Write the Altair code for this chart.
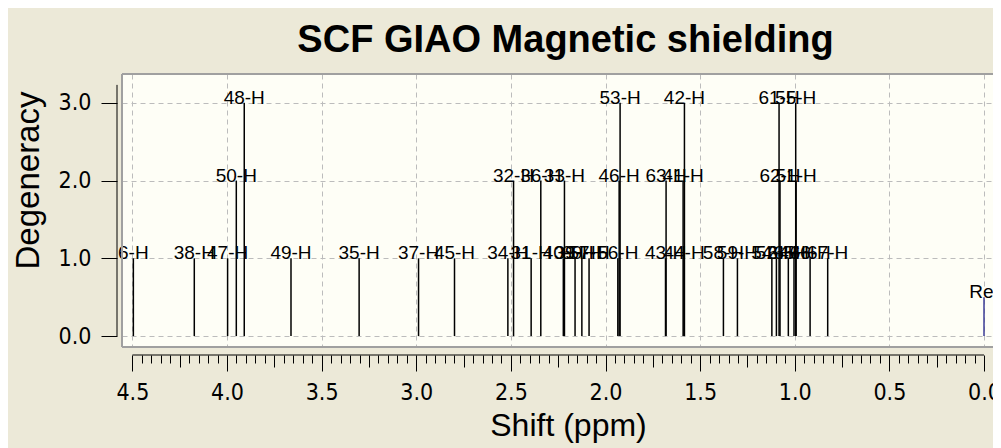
import altair as alt
import pandas as pd

TITLE = "SCF GIAO Magnetic shielding"
X_TITLE = "Shift (ppm)"
Y_TITLE = "Degeneracy"

# spikes: label, shift (ppm), degeneracy
LABELS = ["48-H", "53-H", "42-H", "61-H", "55-H",
          "50-H", "32-H", "36-H", "33-H", "46-H", "63-H", "41-H", "62-H", "51-H",
          "6-H", "38-H", "47-H", "49-H", "35-H", "37-H", "45-H", "34-H", "31-H",
          "40-H", "39-H", "60-H", "57-H", "56-H", "43-H", "44-H", "58-H", "59-H",
          "54-H", "52-H", "64-H", "65-H", "66-H", "67-H"]
SHIFTS = [3.909, 1.923, 1.583, 1.083, 0.995,
          3.951, 2.486, 2.342, 2.217, 1.928, 1.680, 1.590, 1.078, 0.993,
          4.495, 4.173, 3.997, 3.662, 3.302, 2.988, 2.798, 2.516, 2.393,
          2.223, 2.161, 2.125, 2.087, 1.935, 1.683, 1.585, 1.377, 1.303,
          1.121, 1.097, 1.034, 1.004, 0.919, 0.826]
DEGENERACY = [3, 3, 3, 3, 3,
              2, 2, 2, 2, 2, 2, 2, 2, 2,
              1, 1, 1, 1, 1, 1, 1, 1, 1,
              1, 1, 1, 1, 1, 1, 1, 1, 1,
              1, 1, 1, 1, 1, 1]

REF_LABEL = "Ref"
REF_SHIFT = 0.0
REF_DEGENERACY = 0.5

X_TICK_LABELS = [4.5, 4.0, 3.5, 3.0, 2.5, 2.0, 1.5, 1.0, 0.5, 0.0]
X_RULER_STEP = 0.05
Y_TICK_LABELS = [0.0, 1.0, 2.0, 3.0]
X_DOMAIN = [4.555, -0.0475]
Y_DOMAIN = [-0.14, 3.37]
Y_AXIS_LINE = [0.0, 3.23]

PLOT_W = 871
PLOT_H = 273

ruler_ticks = [round(i * X_RULER_STEP, 2) for i in range(int(round(max(X_TICK_LABELS) / X_RULER_STEP)) + 1)]

spikes = pd.DataFrame({"label": LABELS, "shift": SHIFTS, "deg": DEGENERACY})
spikes["base"] = 0.0
ref = pd.DataFrame({"label": [REF_LABEL], "shift": [REF_SHIFT], "deg": [REF_DEGENERACY], "base": [0.0]})
texts = pd.concat([spikes, ref], ignore_index=True)

MAJOR = "abs(datum.value*2 - round(datum.value*2)) < 0.001"
QUARTER = "abs(datum.value*4 - round(datum.value*4)) < 0.001"

NARROW = "DejaVu Sans Condensed, Liberation Sans Narrow, Liberation Sans, sans-serif"
SANS = "Liberation Sans, Arial, sans-serif"

x_scale = alt.Scale(domain=X_DOMAIN, nice=False, zero=False)
y_scale = alt.Scale(domain=Y_DOMAIN, nice=False, zero=False)

X_AXIS = alt.Axis(
    values=ruler_ticks, offset=8, domain=False,
    tickColor="black", tickWidth=1,
    tickSize={"condition": [{"test": MAJOR, "value": 16}, {"test": QUARTER, "value": 12}], "value": 8},
    grid=True, gridColor="#BCBCBC", gridDash=[5, 4], gridWidth=1,
    gridOpacity={"condition": {"test": MAJOR, "value": 1}, "value": 0},
    labelExpr=MAJOR + " ? format(datum.value, '.1f') : ''",
    labelFont=NARROW, labelFontSize=23, labelColor="black", labelPadding=10,
    labelOverlap=False, labelFlush=False,
    title=X_TITLE, titleFont=SANS, titleFontSize=32, titleFontWeight="normal", titleColor="black",
    titleX=446, titleY=70, titleBaseline="middle", titleAnchor="start", titleAlign="center",
)
Y_AXIS = alt.Axis(
    values=Y_TICK_LABELS, format=".1f", offset=5, domain=False,
    tickColor="black", tickSize=16, tickWidth=1,
    grid=True, gridColor="#BCBCBC", gridDash=[5, 4], gridWidth=1,
    labelFont=NARROW, labelFontSize=23, labelColor="black", labelPadding=10,
    title=Y_TITLE, titleFont=SANS, titleFontSize=33, titleFontWeight="normal", titleColor="black",
    titleX=-89, titleY=106, titleBaseline="middle", titleAngle=-90, titleAlign="center",
)

lines = alt.Chart(spikes).mark_rule(color="black", strokeWidth=1.5).encode(
    x=alt.X("shift:Q", scale=x_scale, axis=X_AXIS),
    y=alt.Y("base:Q", scale=y_scale, axis=Y_AXIS),
    y2="deg:Q",
)
ref_line = alt.Chart(ref).mark_rule(color="#3C3C96", strokeWidth=1.5).encode(
    x=alt.X("shift:Q", scale=x_scale, axis=X_AXIS),
    y=alt.Y("base:Q", scale=y_scale, axis=Y_AXIS),
    y2="deg:Q",
)
labels = alt.Chart(texts).mark_text(
    font=SANS, fontSize=19, color="black", align="center", baseline="alphabetic", dy=1,
).encode(
    x=alt.X("shift:Q", scale=x_scale, axis=X_AXIS),
    y=alt.Y("deg:Q", scale=y_scale, axis=Y_AXIS),
    text="label:N",
)

ruler = alt.Chart(pd.DataFrame({"a": [max(X_TICK_LABELS)], "b": [min(X_TICK_LABELS)]})).mark_rule(
    color="black", strokeWidth=1
).encode(
    x=alt.X("a:Q", scale=x_scale, axis=X_AXIS), x2="b:Q", y=alt.value(PLOT_H + 8),
)
yline = alt.Chart(pd.DataFrame({"a": [Y_AXIS_LINE[0]], "b": [Y_AXIS_LINE[1]]})).mark_rule(
    color="black", strokeWidth=1
).encode(
    y=alt.Y("a:Q", scale=y_scale, axis=Y_AXIS), y2="b:Q", x=alt.value(-5),
)

# sunken frame of the plot panel (top, left, bottom edges)
frame_df = pd.DataFrame({"k": [0]})
frame_top = alt.Chart(frame_df).mark_rule(color="#A0A0A0", strokeWidth=2).encode(
    x=alt.value(0), x2=alt.value(PLOT_W), y=alt.value(0))
frame_left = alt.Chart(frame_df).mark_rule(color="#A0A0A0", strokeWidth=2).encode(
    x=alt.value(0), y=alt.value(0), y2=alt.value(PLOT_H))
frame_bottom = alt.Chart(frame_df).mark_rule(color="#A0A0A0", strokeWidth=2).encode(
    x=alt.value(0), x2=alt.value(PLOT_W), y=alt.value(PLOT_H))

chart = alt.layer(lines, ref_line, labels, ruler, yline, frame_top, frame_left, frame_bottom).properties(
    width=PLOT_W, height=PLOT_H,
    autosize=alt.AutoSizeParams(type="none"),
    padding={"left": 114, "top": 66, "right": 0, "bottom": 101},
    title=alt.TitleParams(TITLE, font=SANS, fontSize=38, fontWeight="bold", color="black",
                          anchor="middle", frame="group", offset=13, dx=8),
    background="#ECE9D8",
).configure_view(fill="#FEFEF6", stroke=None)

chart.save("out.html", embed_options={"renderer": "svg", "actions": False})
